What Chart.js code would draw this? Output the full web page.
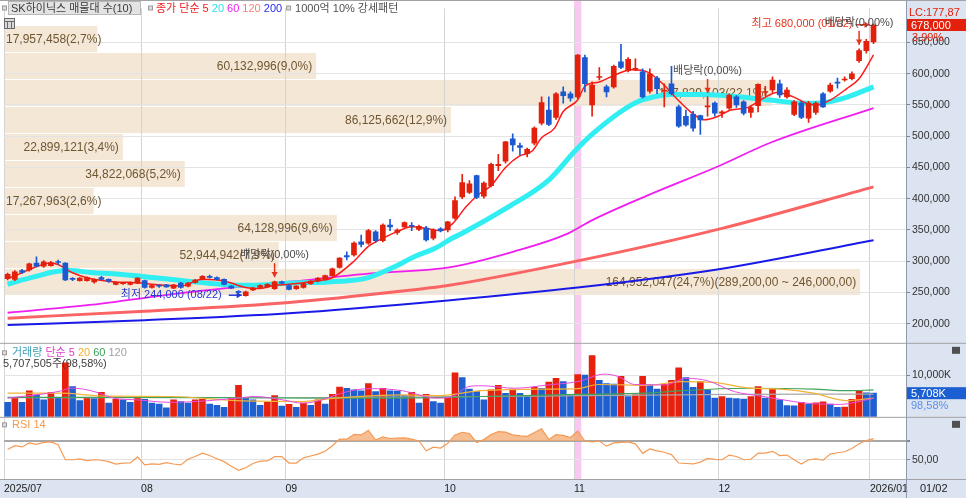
<!DOCTYPE html>
<html lang="ko">
<head>
<meta charset="utf-8">
<title>SK하이닉스 매물대</title>
<script src="https://cdn.jsdelivr.net/npm/chart.js@4/dist/chart.umd.min.js"></script>
<style>
  body { margin: 0; background: #fff; }
  canvas { display: block; }
</style>
</head>
<body>
<canvas id="grafico" width="966" height="498"></canvas>
<script>
// 일봉: 2025/07/07 ~ 2026/01/02 (121 거래일), 가격은 원 단위
const opens = [272000,271000,285000,286000,297000,292000,293000,299000,297000,272000,
  269000,269000,267000,274000,271000,263000,264000,263000,265000,269000,
  258000,261000,262000,257000,265000,260000,266000,271000,276000,274000,
  271000,260000,251000,245000,254000,258000,259000,256000,267000,261000,
  256000,258000,264000,268000,271000,277000,290000,309000,310000,331000,
  329000,347000,333000,358000,346000,355000,357000,351000,353000,337000,
  352000,350000,369000,403000,410000,437000,404000,421000,453000,460000,
  496000,485000,472000,489000,521000,542000,530000,571000,568000,563000,
  626000,550000,594000,579000,579000,619000,605000,607000,603000,572000,
  593000,572000,584000,547000,532000,535000,533000,547000,553000,537000,
  545000,563000,555000,538000,549000,570000,574000,584000,563000,535000,
  553000,529000,538000,568000,572000,586000,590000,592000,621000,637000,651000];
const highs = [281000,285000,287000,297000,307000,301000,300000,302000,298000,274000,
  274000,275000,272000,276000,272000,267000,266000,267000,274000,270000,
  262000,262000,263000,263000,266000,266000,271000,277000,278000,275000,
  272000,261000,253000,252000,258000,262000,264000,268000,268000,263000,
  261000,265000,269000,274000,278000,289000,306000,315000,331000,342000,
  351000,349000,360000,367000,352000,363000,362000,358000,356000,352000,
  354000,364000,403000,439000,429000,438000,427000,457000,471000,492000,
  504000,489000,481000,515000,563000,563000,570000,579000,571000,631000,
  630000,587000,610000,582000,614000,647000,626000,624000,608000,608000,
  596000,584000,612000,550000,542000,540000,534000,563000,555000,541000,
  568000,565000,557000,548000,584000,580000,595000,590000,578000,557000,
  556000,556000,555000,570000,585000,593000,595000,603000,640000,655000,680000];
const lows = [270000,269000,280000,284000,291000,290000,292000,295000,269000,269000,
  268000,268000,265000,270000,266000,262000,263000,262000,264000,257000,
  257000,258000,258000,256000,257000,259000,265000,270000,273000,270000,
  262000,256000,249000,244000,253000,257000,258000,255000,264000,254000,
  255000,257000,263000,267000,270000,276000,289000,302000,308000,323000,
  327000,330000,331000,349000,343000,354000,349000,349000,332000,334000,
  347000,347000,367000,400000,408000,400000,401000,419000,445000,457000,
  476000,470000,467000,486000,518000,517000,527000,553000,556000,560000,
  571000,532000,590000,563000,577000,608000,603000,605000,561000,569000,
  568000,547000,566000,514000,516000,508000,503000,532000,532000,530000,
  543000,546000,534000,530000,539000,565000,570000,562000,561000,533000,
  528000,522000,535000,546000,570000,577000,588000,590000,618000,633000,648000];
const closes = [279000,283000,282000,296000,292000,299000,298000,298000,270000,271000,
  273000,274000,271000,271000,268000,266000,265000,266000,273000,258000,
  261000,260000,259000,262000,258000,265000,270000,276000,274000,271000,
  263000,257000,250000,251000,257000,261000,263000,267000,265000,255000,
  260000,264000,268000,273000,277000,288000,305000,307000,329000,327000,
  349000,333000,358000,355000,350000,362000,356000,356000,334000,350000,
  349000,363000,397000,426000,424000,402000,425000,455000,455000,491000,
  486000,482000,479000,513000,554000,519000,568000,565000,561000,630000,
  584000,582000,595000,571000,612000,610000,623000,608000,563000,600000,
  576000,574000,568000,516000,518000,513000,526000,548000,537000,539000,
  566000,550000,537000,546000,583000,571000,590000,566000,574000,555000,
  530000,553000,553000,547000,582000,585000,591000,600000,637000,652000,678000];

// 거래량 (백만주)
const volumeM = [3.5,4.5,3.5,6.3,5.3,4.1,5.9,4.5,13.0,7.3,
  3.9,4.5,4.4,5.9,3.3,4.2,4.1,3.5,4.5,4.2,
  3.3,3.1,2.2,4.1,3.7,3.3,4.1,4.2,3.1,2.8,
  2.3,4.5,7.6,4.5,4.1,2.8,3.5,5.1,2.6,3.0,
  2.3,3.3,2.8,4.1,3.1,5.4,7.2,6.9,6.5,6.3,
  8.0,6.1,6.9,6.3,6.2,5.1,5.9,3.3,5.4,3.7,
  3.3,4.5,10.6,9.5,6.7,6.1,4.1,6.5,7.6,5.7,
  6.7,5.7,5.1,7.1,6.9,8.4,9.3,8.5,5.4,10.2,
  10.1,14.8,8.8,8.0,7.9,9.8,4.9,5.3,9.8,7.7,
  6.7,7.9,8.8,11.8,9.5,7.1,8.5,6.5,4.5,4.9,
  4.5,4.4,4.3,4.9,7.3,4.5,6.7,4.1,2.7,2.65,
  3.5,3.1,3.4,3.6,3.1,2.3,2.35,4.2,6.3,5.79,5.7075];

const rsi14 = [61,65,63.7,68,66.5,68.5,69,66,50,50,
  51,49,50,49.5,48,45.3,46.5,46.7,53,44.5,
  45.5,45,47,45.5,44.5,50.5,53.5,57,54.5,51,
  48,43,38.7,41.5,46,48.5,48.7,53.3,53.3,46.5,
  46.5,52,54,56,59,65,72,72,77,76.5,
  81.5,71,74.5,72.7,73,73.3,72,70,59.5,63.5,
  62.5,67.5,76.5,79.3,78,68.5,71.5,77,80,79.5,
  76.5,75.5,75,79,83,71.7,76.7,76,73.7,80.5,
  70,69,70,64.5,68,68.6,69,67,56.8,61.5,
  59.5,58,55.5,46.5,46,45.5,47.5,51.5,50.5,50,
  55,53.5,50,50.5,57,57,59,54.5,55,50,
  45.5,50,51,49.5,56,57.5,58.5,62,67,70.5,72.7];

// 이동평균선 판독값 [봉 번호, 값]
const ma5 = [[0,273000],[1,276300],[3,286800],[6,297300],[7,294700],[9,281500],[11,273600],[15,266800],
  [18,265700],[20,263000],[24,260500],[27,271000],[30,268400],[33,257900],[35,256300],[37,261500],
  [39,263000],[42.6,268400],[45,273600],[48,300000],[50,323700],[52,336800],[54,347300],[56,355000],
  [58,352600],[60,348900],[61.7,360500],[63.5,386800],[65.4,407900],[67,421000],[69,450000],[70.9,468000],
  [72.7,476300],[74,497400],[75.8,513000],[77,539500],[79,558000],[80,580000],[82,586800],[84,597400],
  [86.5,606300],[88.7,602600],[91,581600],[92.7,560500],[94.6,539500],[96.5,526300],[98.4,531600],
  [100.2,542000],[102.5,545800],[104.7,560500],[106.6,570000],[108.9,563000],[110.7,552600],
  [112.1,550000],[114,557900],[116.3,576300],[118,592000],[120,630000]];
const ma20 = [[0,263000],[2,270000],[4,276000],[6.5,283000],[8.5,285000],[11.5,282000],[15.5,279000],
  [20,274000],[25,268000],[29.5,263000],[32.5,261500],[36,262500],[39.5,265000],[44,266500],[47.5,269000],
  [49.6,272500],[53.3,289400],[56.5,307900],[59.3,321000],[61.6,336800],[63,344700],[69.4,386800],
  [74.9,428900],[78.6,476000],[80.9,502000],[85,539500],[87.3,555300],[89.6,563200],[91.9,566800],
  [96.5,566800],[101.1,563200],[105.7,557900],[110.3,552600],[113,553700],[115.8,560500],[120,579000]];
const ma60 = [[0,217500],[13,232000],[20,243000],[27,253000],[39.5,267500],[50,280000],[61.6,291000],
  [70,315000],[77.7,344600],[80.9,365000],[89.2,407800],[98.5,452000],[105.7,489500],[120,545000]];
const ma120 = [[0,208900],[19,220000],[39,234000],[56,254000],[61,261000],[79,300500],[99,352600],[120,419000]];
const ma200 = [[0,197800],[19,205700],[39,216800],[61,237300],[79,257800],[99,288000],[120,333600]];

// 거래량 이동평균 [봉 번호, 백만주]
const vma5 = [[0,4.5],[7.3,6.2],[8.7,6.9],[10.5,6.7],[12.4,5.9],[14.7,4.5],[17.9,4.1],[22.5,3.5],[27.1,3.8],
  [31.7,4.5],[34.4,4.9],[38.1,4.1],[40.9,3.3],[43.6,4.1],[45.5,5.3],[48.2,6.5],[50.1,6.8],[54.7,6.3],
  [57,5.3],[59.3,4.5],[61.6,4.9],[63.9,7.3],[65.7,7.5],[70.3,6.9],[74.9,7.7],[79,8.5],[82.7,10.3],
  [84.5,9.8],[86.9,7.8],[91,7.7],[94.2,9.3],[97,8.7],[100.7,6.1],[104.8,4.9],[108.9,3.7],[110.7,3.3],
  [115.4,3.0],[117.2,3.4],[120,4.5]];
const vma20 = [[0,5.7],[7.3,5.7],[13.3,5.0],[22.5,4.9],[31.7,3.9],[40.9,3.7],[45.5,4.5],[54.7,5.3],[59.3,5.1],
  [65.7,6.3],[74.9,6.7],[79,6.8],[81.8,7.8],[88.7,7.6],[93.3,8.5],[97.9,8.3],[102.5,7.0],[107.1,6.7],
  [111.7,5.7],[116.3,3.9],[120,4.5]];
const vma60 = [[0,4.7],[22.5,4.7],[43.6,4.5],[50.5,4.5],[65.7,4.9],[79,5.4],[88.7,5.7],[93.3,6.3],[102.5,6.9],
  [111.7,6.7],[116.3,6.3],[120,6.5]];
const vma120 = [[0,4.6],[40,4.6],[65.7,4.9],[79,5.1],[100,5.4],[120,5.5]];

// 매물대 10구간
const profileLow = [246000,289200,332400,375600,418800,462000,505200,548400,591600,634800];
const profileHigh = [289200,332400,375600,418800,462000,505200,548400,591600,634800,678000];
const profileVol = [164952047,52944942,64128996,17267963,34822068,22899121,86125662,147829103,60132996,17957458];
const profileText = ['164,952,047(24,7%)(289,200,00 ~ 246,000,00)','52,944,942(7,9%)','64,128,996(9,6%)',
  '17,267,963(2,6%)','34,822,068(5,2%)','22,899,121(3,4%)','86,125,662(12,9%)','147,829,103(22,1%)',
  '60,132,996(9,0%)','17,957,458(2,7%)'];

const monthTicks = [-0.5, 18.5, 38.5, 60.5, 78.5, 98.5, 119.5];
const monthLabels = ['2025/07', '08', '09', '10', '11', '12', '2026/01'];
const priceTicks = [200000,250000,300000,350000,400000,450000,500000,550000,600000,650000];

const highlightBar = 79;        // 11/03
const exDivBars = [37, 97, 118];
const lowBar = 33, highBar = 120;

const RED = '#e3200b', BLUE = '#1c59cf';
const FAM = '"Liberation Sans", "Noto Sans CJK KR", sans-serif';
const font = s => s + 'px ' + FAM;
const toPts = list => list.map(p => ({ x: p[0], y: p[1] }));
const last = closes.length - 1;

const candleColors = closes.map((c, i) => c >= opens[i] ? RED : BLUE);
const volColors = volumeM.map((v, i) => i > 0 && v > volumeM[i - 1] ? '#e8200e' : '#1f5fd0');

function bullet(ctx, x, y) {
  ctx.fillStyle = '#9a9a9a';
  ctx.fillRect(x, y - 2.5, 5, 5);
  ctx.fillStyle = '#dcdcdc';
  ctx.fillRect(x + 1, y - 1.5, 3, 3);
}

function runs(ctx, x, y, parts) {
  parts.forEach(p => {
    ctx.fillStyle = p[1];
    ctx.fillText(p[0], x, y);
    x += ctx.measureText(p[0]).width;
  });
  return x;
}

function arrow(ctx, x0, y0, x1, y1, color) {
  const ang = Math.atan2(y1 - y0, x1 - x0);
  ctx.strokeStyle = color;
  ctx.fillStyle = color;
  ctx.lineWidth = 1.5;
  ctx.beginPath(); ctx.moveTo(x0, y0); ctx.lineTo(x1, y1); ctx.stroke();
  ctx.beginPath();
  ctx.moveTo(x1, y1);
  ctx.lineTo(x1 - 6 * Math.cos(ang - 0.55), y1 - 6 * Math.sin(ang - 0.55));
  ctx.lineTo(x1 - 6 * Math.cos(ang + 0.55), y1 - 6 * Math.sin(ang + 0.55));
  ctx.closePath(); ctx.fill();
}

const decor = {
  id: 'decor',
  beforeDraw(chart) {
    const { ctx, chartArea: a, scales: { x, y, xv } } = chart;
    const W = chart.width, H = chart.height;
    ctx.save();
    ctx.fillStyle = '#fff';
    ctx.fillRect(0, 0, W, H);
    ctx.fillStyle = '#dbe4f0';
    ctx.fillRect(a.right, 0, W - a.right, H);
    ctx.fillRect(0, a.bottom, W, H - a.bottom);
    // 강조된 날
    const h0 = x.getPixelForValue(highlightBar - 0.5), h1 = x.getPixelForValue(highlightBar + 0.5);
    ctx.fillStyle = '#f9c8f1';
    ctx.fillRect(h0, 0, h1 - h0, a.bottom);
    // 매물대
    ctx.fillStyle = '#f5e7d5';
    profileLow.forEach((lo, k) => {
      const top = y.getPixelForValue(profileHigh[k]), bot = y.getPixelForValue(lo);
      const x1 = xv.getPixelForValue(profileVol[k]);
      ctx.fillRect(a.left, top + 1, x1 - a.left, bot - top - 1);
    });
    ctx.restore();
  },
  beforeDatasetsDraw(chart) {
    const { ctx, chartArea: a, scales: { y, xv } } = chart;
    ctx.save();
    ctx.font = font(12);
    ctx.textBaseline = 'middle';
    ctx.fillStyle = '#6e5632';
    profileLow.forEach((lo, k) => {
      const cy = (y.getPixelForValue(lo) + y.getPixelForValue(profileHigh[k])) / 2;
      const x1 = xv.getPixelForValue(profileVol[k]);
      const w = ctx.measureText(profileText[k]).width;
      ctx.fillText(profileText[k], Math.max(a.left + 2, x1 - 4 - w), cy + 1);
    });
    ctx.restore();
  },
  afterDraw(chart) {
    const { ctx, chartArea: a, scales: { x, y, yv, yr } } = chart;
    const W = chart.width, H = chart.height;
    ctx.save();
    // 구분선
    ctx.strokeStyle = '#a2a2a2';
    ctx.lineWidth = 1;
    [0.5, yv.top + 0.5, yr.top + 0.5, a.bottom + 0.5].forEach(py => {
      ctx.beginPath(); ctx.moveTo(0, py); ctx.lineTo(W, py); ctx.stroke();
    });
    ctx.strokeStyle = '#8d9aab';
    ctx.beginPath(); ctx.moveTo(a.right + 0.5, 0); ctx.lineTo(a.right + 0.5, H); ctx.stroke();

    ctx.textBaseline = 'middle';
    ctx.font = font(11);
    // 상단 범례
    bullet(ctx, 2, 8);
    ctx.fillStyle = '#e3e3e3';
    ctx.fillRect(8, 1, 133, 14);
    ctx.strokeStyle = '#b8b8b8';
    ctx.strokeRect(8.5, 1.5, 132, 13);
    ctx.fillStyle = '#3a3a3a';
    ctx.fillText('SK하이닉스 매물대 수(10)', 11, 8.5);
    bullet(ctx, 148, 8);
    let px = runs(ctx, 156, 8.5, [['종가 단순 5', '#f01c1c'], [' 20', '#2de4ee'], [' 60', '#f020f0'],
      [' 120', '#ff7a7a'], [' 200', '#2a2af0']]);
    bullet(ctx, px + 4, 8);
    runs(ctx, px + 13, 8.5, [['1000억 10% 강세패턴', '#505050']]);

    // 작은 표 아이콘
    ctx.fillStyle = '#dadada';
    ctx.fillRect(4, 18, 11, 11);
    ctx.strokeStyle = '#6a6a6a';
    ctx.strokeRect(4.5, 18.5, 10, 10);
    ctx.beginPath();
    ctx.moveTo(4.5, 21.5); ctx.lineTo(14.5, 21.5);
    ctx.moveTo(7.5, 21.5); ctx.lineTo(7.5, 28.5);
    ctx.moveTo(11.5, 21.5); ctx.lineTo(11.5, 28.5);
    ctx.stroke();

    // 거래량 범례
    bullet(ctx, 2, yv.top + 10);
    runs(ctx, 12, yv.top + 10.5, [['거래량', '#3a9fb5'], [' 단순 5', '#e040d0'], [' 20', '#f2b030'],
      [' 60', '#3aa05a'], [' 120', '#a0a0a0']]);
    ctx.fillStyle = '#404040';
    ctx.fillText('5,707,505주(98,58%)', 3, yv.top + 21.5);

    // RSI 범례
    bullet(ctx, 2, yr.top + 8);
    ctx.fillStyle = '#f59848';
    ctx.fillText('RSI 14', 12, yr.top + 8.5);

    // 최고/최저
    const hx = x.getPixelForValue(highBar), hy = y.getPixelForValue(highs[highBar]);
    ctx.textAlign = 'right';
    ctx.fillStyle = '#e8321c';
    ctx.fillText('최고 680,000 (01/02)', hx - 21, hy);
    arrow(ctx, hx - 18, hy + 1, hx - 4, hy + 1, '#e8321c');
    const lx = x.getPixelForValue(lowBar), ly = y.getPixelForValue(lows[lowBar]);
    ctx.fillStyle = '#2438d8';
    ctx.fillText('최저 244,000 (08/22)', lx - 24, ly - 1);
    arrow(ctx, lx - 17, ly - 1, lx - 4, ly - 1, '#2438d8');

    // 배당락
    ctx.textAlign = 'center';
    exDivBars.forEach(i => {
      const bx = x.getPixelForValue(i), top = y.getPixelForValue(highs[i]);
      arrow(ctx, bx, top - 18, bx, top - 4, '#e8321c');
      ctx.fillStyle = '#4a4a4a';
      ctx.fillText('배당락(0,00%)', bx, top - 26);
    });

    // 오른쪽 현재값 표시
    ctx.textAlign = 'left';
    const cy = y.getPixelForValue(closes[last]);
    ctx.fillStyle = RED;
    ctx.fillRect(a.right + 1, cy - 6, W - a.right - 1, 12);
    ctx.fillStyle = '#fff';
    ctx.fillText('678,000', a.right + 5, cy + 0.5);
    ctx.fillStyle = RED;
    ctx.fillText('LC:177,87', a.right + 3, cy - 12.5);
    ctx.fillText('3,99%', a.right + 6, cy + 12.5);

    const vy = yv.getPixelForValue(volumeM[last]);
    ctx.fillStyle = '#1b5fd3';
    ctx.fillRect(a.right + 1, vy - 6, W - a.right - 1, 12);
    ctx.fillStyle = '#fff';
    ctx.fillText('5,708K', a.right + 5, vy + 0.5);
    ctx.fillStyle = '#5a90e8';
    ctx.fillText('98,58%', a.right + 5, vy + 12.5);

    // 작은 아이콘
    ctx.fillStyle = '#505050';
    ctx.fillRect(W - 14, yv.top + 4, 8, 7);
    ctx.fillRect(W - 14, yr.top + 4, 8, 7);

    ctx.fillStyle = '#222';
    ctx.fillText('01/02', a.right + 14, a.bottom + 10);
    ctx.restore();
  }
};

const lineDs = (pts, color, width, axis, order) => ({
  type: 'line', data: toPts(pts), borderColor: color, borderWidth: width, pointRadius: 0,
  cubicInterpolationMode: 'monotone', fill: false, xAxisID: 'x', yAxisID: axis, order: order
});

new Chart(document.getElementById('grafico').getContext('2d'), {
  type: 'bar',
  data: {
    datasets: [
      { type: 'bar', data: closes.map((c, i) => ({ x: i, y: [opens[i], c] })), backgroundColor: candleColors,
        barThickness: 5, minBarLength: 1, grouped: false, borderWidth: 0, xAxisID: 'x', yAxisID: 'y', order: 1 },
      { type: 'bar', data: highs.map((h, i) => ({ x: i, y: [lows[i], h] })), backgroundColor: candleColors,
        barThickness: 1, grouped: false, borderWidth: 0, xAxisID: 'x', yAxisID: 'y', order: 2 },
      lineDs(ma5, '#ff1a1a', 1.5, 'y', 3),
      lineDs(ma20, '#30eef2', 5, 'y', 4),
      lineDs(ma60, '#f01ef0', 1.8, 'y', 5),
      lineDs(ma120, '#fb6464', 3, 'y', 6),
      lineDs(ma200, '#1a1ae8', 2, 'y', 7),
      lineDs(vma5, '#e84ce0', 1, 'yv', 8),
      lineDs(vma20, '#f2b338', 1.2, 'yv', 9),
      lineDs(vma60, '#3fa35a', 1.2, 'yv', 10),
      lineDs(vma120, '#a8a8a8', 1.2, 'yv', 11),
      { type: 'bar', data: volumeM.map((v, i) => ({ x: i, y: v })), backgroundColor: volColors,
        barThickness: 6, grouped: false, borderWidth: 0, xAxisID: 'x', yAxisID: 'yv', order: 12 },
      { type: 'line', data: rsi14.map((r, i) => ({ x: i, y: r })), borderColor: '#f59a55', borderWidth: 1.2,
        pointRadius: 0, tension: 0, xAxisID: 'x', yAxisID: 'yr', order: 13,
        fill: { target: { value: 70 }, above: 'rgba(244, 168, 110, 0.75)', below: 'rgba(0,0,0,0)' } }
    ]
  },
  options: {
    responsive: false,
    animation: false,
    events: [],
    layout: { padding: { top: 2, left: 0, right: 0, bottom: 0 } },
    plugins: { legend: { display: false }, tooltip: { enabled: false } },
    scales: {
      x: {
        type: 'linear', min: -0.5, max: 124.5, offset: false, position: 'bottom',
        afterBuildTicks: s => { s.ticks = monthTicks.map(v => ({ value: v })); },
        afterFit: s => { s.height = 19; },
        ticks: { autoSkip: false, maxRotation: 0, align: 'start', padding: 4, color: '#222',
          font: { family: FAM, size: 10.5 }, callback: (v, i) => monthLabels[i] },
        grid: { color: '#d4d4d4', drawTicks: false, offset: false },
        border: { display: false }
      },
      xv: { type: 'linear', display: false, min: 0, max: 164952047 * 906 / 860, offset: false },
      y: {
        position: 'right', stack: 'pane', stackWeight: 339, min: 169400, max: 704700, offset: false,
        afterBuildTicks: s => { s.ticks = priceTicks.map(v => ({ value: v })); },
        afterFit: s => { s.width = 60; },
        ticks: { color: '#333', padding: 2, font: { family: FAM, size: 10.5 },
          callback: v => v.toLocaleString('en-US') },
        grid: { color: '#e3e3e3', tickLength: 4, tickColor: '#7d8a9a' },
        border: { color: '#8d9aab' }
      },
      yv: {
        position: 'right', stack: 'pane', stackWeight: 75, min: 0, max: 17.857, offset: false,
        afterBuildTicks: s => { s.ticks = [{ value: 10 }]; },
        afterFit: s => { s.width = 60; },
        ticks: { color: '#333', padding: 2, font: { family: FAM, size: 10.5 }, callback: () => '10,000K' },
        grid: { color: '#e3e3e3', tickLength: 4, tickColor: '#7d8a9a' },
        border: { color: '#8d9aab' }
      },
      yr: {
        position: 'right', stack: 'pane', stackWeight: 63, min: 29.47, max: 95.79, offset: false,
        afterBuildTicks: s => { s.ticks = [{ value: 50 }, { value: 70 }]; },
        afterFit: s => { s.width = 60; },
        ticks: { color: '#333', padding: 2, font: { family: FAM, size: 10.5 },
          callback: v => v === 50 ? '50,00' : '' },
        grid: {
          color: c => c.tick && c.tick.value === 70 ? '#a8a8a8' : '#e3e3e3',
          lineWidth: c => c.tick && c.tick.value === 70 ? 2 : 1,
          tickLength: 4, tickColor: '#7d8a9a'
        },
        border: { color: '#8d9aab' }
      }
    }
  },
  plugins: [decor]
});
</script>
</body>
</html>
